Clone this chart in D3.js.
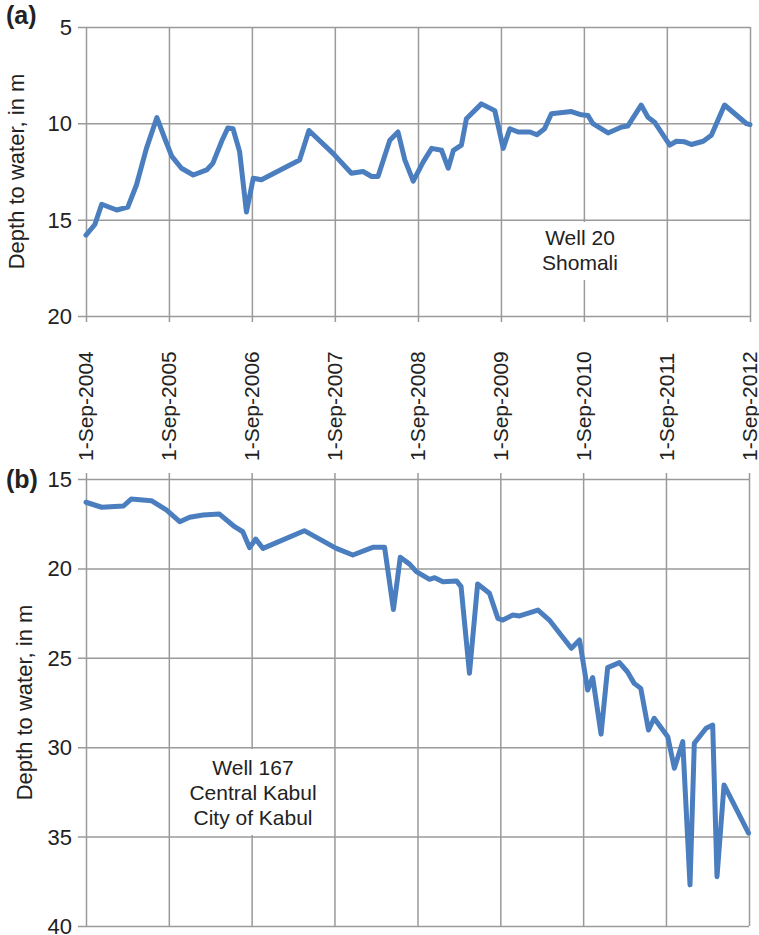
<!DOCTYPE html>
<html>
<head>
<meta charset="utf-8">
<script src="https://cdn.jsdelivr.net/npm/d3@7"></script>
<style>
  body { margin: 0; background: #fff; }
  text { font-family: "Liberation Sans", Arial, sans-serif; fill: #222; }
</style>
</head>
<body>
<div id="chart"></div>
<script>
// tick labels shared by both panels
const dateTicks = ["1-Sep-2004", "1-Sep-2005", "1-Sep-2006", "1-Sep-2007", "1-Sep-2008",
    "1-Sep-2009", "1-Sep-2010", "1-Sep-2011", "1-Sep-2012"];
const depthTicksA = [5, 10, 15, 20];
const depthTicksB = [15, 20, 25, 30, 35, 40];

// Well 20, Shomali
const well20Dates = ["2004-09-01", "2004-10-10", "2004-11-09", "2005-01-14", "2005-03-04", "2005-04-11",
    "2005-05-25", "2005-07-10", "2005-08-14", "2005-09-13", "2005-10-26", "2005-12-17", "2006-02-14",
    "2006-03-13", "2006-04-20", "2006-05-18", "2006-06-10", "2006-07-09", "2006-08-08", "2006-09-07",
    "2006-10-13", "2007-03-30", "2007-05-10", "2007-08-24", "2007-11-13", "2008-01-03", "2008-02-10",
    "2008-03-09", "2008-04-30", "2008-06-05", "2008-07-05", "2008-08-11", "2008-09-24", "2008-10-31",
    "2008-12-14", "2009-01-12", "2009-02-04", "2009-03-11", "2009-04-02", "2009-06-07", "2009-08-05",
    "2009-09-11", "2009-10-10", "2009-11-16", "2010-01-07", "2010-02-06", "2010-03-12", "2010-04-11",
    "2010-07-08", "2010-08-21", "2010-09-19", "2010-10-11", "2010-12-16", "2011-02-14", "2011-03-13",
    "2011-05-11", "2011-06-10", "2011-07-09", "2011-09-14", "2011-10-13", "2011-11-19", "2011-12-18",
    "2012-02-08", "2012-03-15", "2012-05-12", "2012-08-17", "2012-09-01"];
const well20Depth = [15.8, 15.25, 14.2, 14.5, 14.35, 13.2,
    11.3, 9.7, 10.8, 11.7, 12.33, 12.68, 12.42,
    12.08, 10.96, 10.24, 10.28, 11.47, 14.6, 12.85,
    12.93, 11.9, 10.37, 11.56, 12.59, 12.5, 12.76,
    12.76, 10.88, 10.45, 11.9, 13.0, 12.0, 11.3,
    11.4, 12.33, 11.4, 11.13, 9.76, 8.99, 9.34,
    11.3, 10.28, 10.45, 10.45, 10.59, 10.28, 9.5,
    9.39, 9.56, 9.59, 10.02, 10.5, 10.19, 10.14,
    9.05, 9.68, 9.94, 11.13, 10.93, 10.96, 11.1,
    10.93, 10.62, 9.05, 10.02, 10.07];

// Well 167, Central Kabul
const well167Dates = ["2004-09-01", "2004-11-09", "2005-02-13", "2005-03-19", "2005-06-16", "2005-08-21",
    "2005-10-19", "2005-12-02", "2006-01-30", "2006-04-12", "2006-06-18", "2006-07-24", "2006-08-23",
    "2006-09-19", "2006-10-21", "2007-04-21", "2007-09-09", "2007-11-21", "2008-02-17", "2008-04-09",
    "2008-05-18", "2008-06-17", "2008-07-28", "2008-08-27", "2008-10-24", "2008-11-16", "2008-12-22",
    "2009-02-20", "2009-03-12", "2009-04-18", "2009-05-24", "2009-07-15", "2009-08-21", "2009-09-12",
    "2009-10-26", "2009-11-25", "2010-02-14", "2010-04-05", "2010-07-11", "2010-08-16", "2010-09-21",
    "2010-10-13", "2010-11-19", "2010-12-18", "2011-02-08", "2011-03-15", "2011-04-14", "2011-05-13",
    "2011-06-16", "2011-07-11", "2011-09-09", "2011-10-08", "2011-11-14", "2011-12-16", "2012-01-04",
    "2012-02-25", "2012-03-25", "2012-04-13", "2012-05-14", "2012-08-30"];
const well167Depth = [16.3, 16.58, 16.51, 16.12, 16.21, 16.73,
    17.39, 17.14, 17.01, 16.96, 17.67, 17.95, 18.84,
    18.36, 18.88, 17.89, 18.88, 19.25, 18.82, 18.82,
    22.3, 19.38, 19.76, 20.18, 20.61, 20.52, 20.74,
    20.7, 21.02, 25.87, 20.87, 21.39, 22.79, 22.89,
    22.61, 22.66, 22.33, 22.89, 24.47, 24.0, 26.8,
    26.1, 29.27, 25.55, 25.27, 25.78, 26.43, 26.71,
    29.04, 28.38, 29.41, 31.18, 29.69, 37.7, 29.78,
    28.94, 28.76, 37.24, 32.11, 34.8];

const W = 759, H = 935;
const parseTick = d3.timeParse("%-d-%b-%Y");
const parseDay = d3.timeParse("%Y-%m-%d");
const tickDates = dateTicks.map(parseTick);

const svg = d3.select("#chart").append("svg")
    .attr("width", W)
    .attr("height", H);

const lineColor = "#4a7ebf";
const gridColor = "#9a9a9a";

function drawPanel(opts) {
    const x = d3.scaleTime()
        .domain([tickDates[0], tickDates[tickDates.length - 1]])
        .range([opts.left, opts.right]);
    const y = d3.scaleLinear()
        .domain(opts.domain)
        .range([opts.top, opts.bottom]);

    const g = svg.append("g");

    // horizontal gridlines + left ticks + labels
    const yAxis = g.append("g")
        .attr("transform", `translate(${opts.left - 8},0)`)
        .call(d3.axisLeft(y)
            .tickValues(opts.yTicks)
            .tickSizeInner(-(opts.right - opts.left + 8))
            .tickSizeOuter(0)
            .tickPadding(6));
    yAxis.select(".domain").remove();
    yAxis.selectAll("line").attr("stroke", gridColor).attr("stroke-width", 1.5);
    yAxis.selectAll("text")
        .attr("font-size", 22)
        .attr("dy", "0.34em")
        .attr("font-family", "Liberation Sans, Arial, sans-serif")
        .attr("fill", "#222");

    // vertical gridlines (with small ticks outside the plot on the date side)
    const xAxis = g.append("g");
    if (opts.tickSide === "bottom") {
        xAxis.attr("transform", `translate(0,${opts.bottom + 6})`)
            .call(d3.axisTop(x).tickValues(tickDates)
                .tickSizeInner(opts.bottom + 6 - opts.top).tickSizeOuter(0).tickFormat(""));
    } else {
        xAxis.attr("transform", `translate(0,${opts.top - 6})`)
            .call(d3.axisBottom(x).tickValues(tickDates)
                .tickSizeInner(opts.bottom - opts.top + 6).tickSizeOuter(0).tickFormat(""));
    }
    xAxis.select(".domain").remove();
    xAxis.selectAll("line").attr("stroke", gridColor).attr("stroke-width", 1.5);

    // white box behind the well label (cuts the gridline)
    g.append("rect")
        .attr("x", opts.box[0]).attr("y", opts.box[1])
        .attr("width", opts.box[2]).attr("height", opts.box[3])
        .attr("fill", "#fff");

    const label = g.append("text")
        .attr("text-anchor", "middle")
        .attr("font-size", 21);
    opts.labelLines.forEach((t, i) => {
        label.append("tspan")
            .attr("x", opts.labelX)
            .attr("y", opts.labelY + i * 25)
            .text(t);
    });

    // the series
    const pts = opts.dates.map((d, i) => [parseDay(d), opts.values[i]]);
    g.append("path")
        .datum(pts)
        .attr("fill", "none")
        .attr("stroke", lineColor)
        .attr("stroke-width", 5)
        .attr("stroke-linejoin", "round")
        .attr("stroke-linecap", "round")
        .attr("d", d3.line().x(d => x(d[0])).y(d => y(d[1])));

    // axis title
    const cy = (opts.top + opts.bottom) / 2;
    g.append("text")
        .attr("transform", `translate(${opts.titleX},${cy}) rotate(-90)`)
        .attr("text-anchor", "middle")
        .attr("dy", "0.35em")
        .attr("font-size", 22)
        .text("Depth to water, in m");

    // panel letter
    g.append("text")
        .attr("x", 6)
        .attr("y", opts.letterY)
        .attr("font-family", "Liberation Serif, Times New Roman, serif")
        .attr("font-weight", "bold")
        .attr("font-size", 25)
        .text(opts.letter);

    return x;
}

const xA = drawPanel({
    left: 86, right: 750, top: 27, bottom: 316,
    domain: [5, 20], yTicks: depthTicksA, tickSide: "bottom",
    dates: well20Dates, values: well20Depth,
    box: [538, 222, 84, 58], labelX: 580, labelY: 245, labelLines: ["Well 20", "Shomali"],
    titleX: 16, letter: "(a)", letterY: 24
});

drawPanel({
    left: 86, right: 749, top: 479, bottom: 926,
    domain: [15, 40], yTicks: depthTicksB, tickSide: "top",
    dates: well167Dates, values: well167Depth,
    box: [184, 749, 138, 86], labelX: 253, labelY: 775, labelLines: ["Well 167", "Central Kabul", "City of Kabul"],
    titleX: 24, letter: "(b)", letterY: 488
});

// rotated date labels between the panels
svg.append("g")
    .selectAll("text")
    .data(dateTicks)
    .join("text")
    .attr("transform", (d, i) => `translate(${xA(tickDates[i])},461) rotate(-90)`)
    .attr("dy", "0.35em")
    .attr("text-anchor", "start")
    .attr("font-size", 21)
    .text(d => d);
</script>
</body>
</html>
